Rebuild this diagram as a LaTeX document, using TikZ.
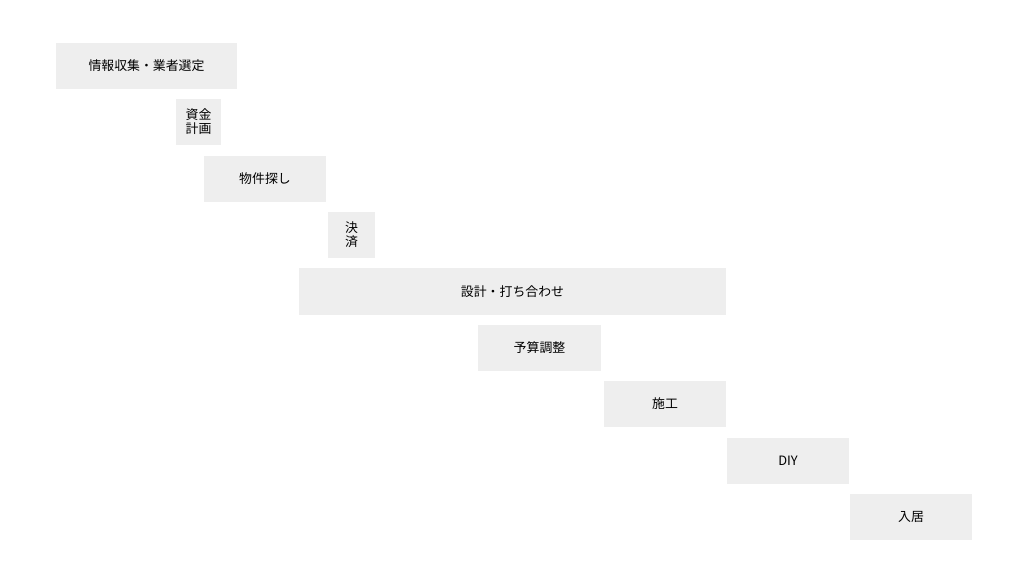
\documentclass[tikz,border=0pt]{standalone}
\usepackage{fontspec}
\setmainfont{Noto Sans CJK JP}
\usetikzlibrary{positioning}
\definecolor{barfill}{HTML}{EEEEEE}
\tikzset{bar/.style={fill=barfill,draw=none,inner sep=0pt,align=center,font=\fontsize{11}{12}\selectfont}}
\begin{document}
\begin{tikzpicture}[x=0.03cm,y=-0.03cm]
\useasboundingbox (0,0) rectangle (1024,576);
% bars: left, top, right, bottom in pixels
\node[bar,minimum width=181*0.03cm,minimum height=46*0.03cm] (info) at (146.5,66) {情報収集・業者選定};
\node[bar,minimum width=45*0.03cm,minimum height=46*0.03cm] (fund) at (198.5,122) {資金\\計画};
\node[bar,minimum width=122*0.03cm,minimum height=46*0.03cm] (search) at (265,179) {物件探し};
\node[bar,minimum width=47*0.03cm,minimum height=46*0.03cm] (settle) at (351.5,235) {決\\済};
\node[bar,minimum width=427*0.03cm,minimum height=47*0.03cm] (design) at (512.5,291.5) {設計・打ち合わせ};
\node[bar,minimum width=123*0.03cm,minimum height=46*0.03cm] (budget) at (539.5,348) {予算調整};
\node[bar,minimum width=122*0.03cm,minimum height=46*0.03cm] (build) at (665,404) {施工};
\node[bar,minimum width=122*0.03cm,minimum height=46*0.03cm] (diy) at (788,461) {DIY};
\node[bar,minimum width=122*0.03cm,minimum height=46*0.03cm] (move) at (911,517) {入居};
\end{tikzpicture}
\end{document}
